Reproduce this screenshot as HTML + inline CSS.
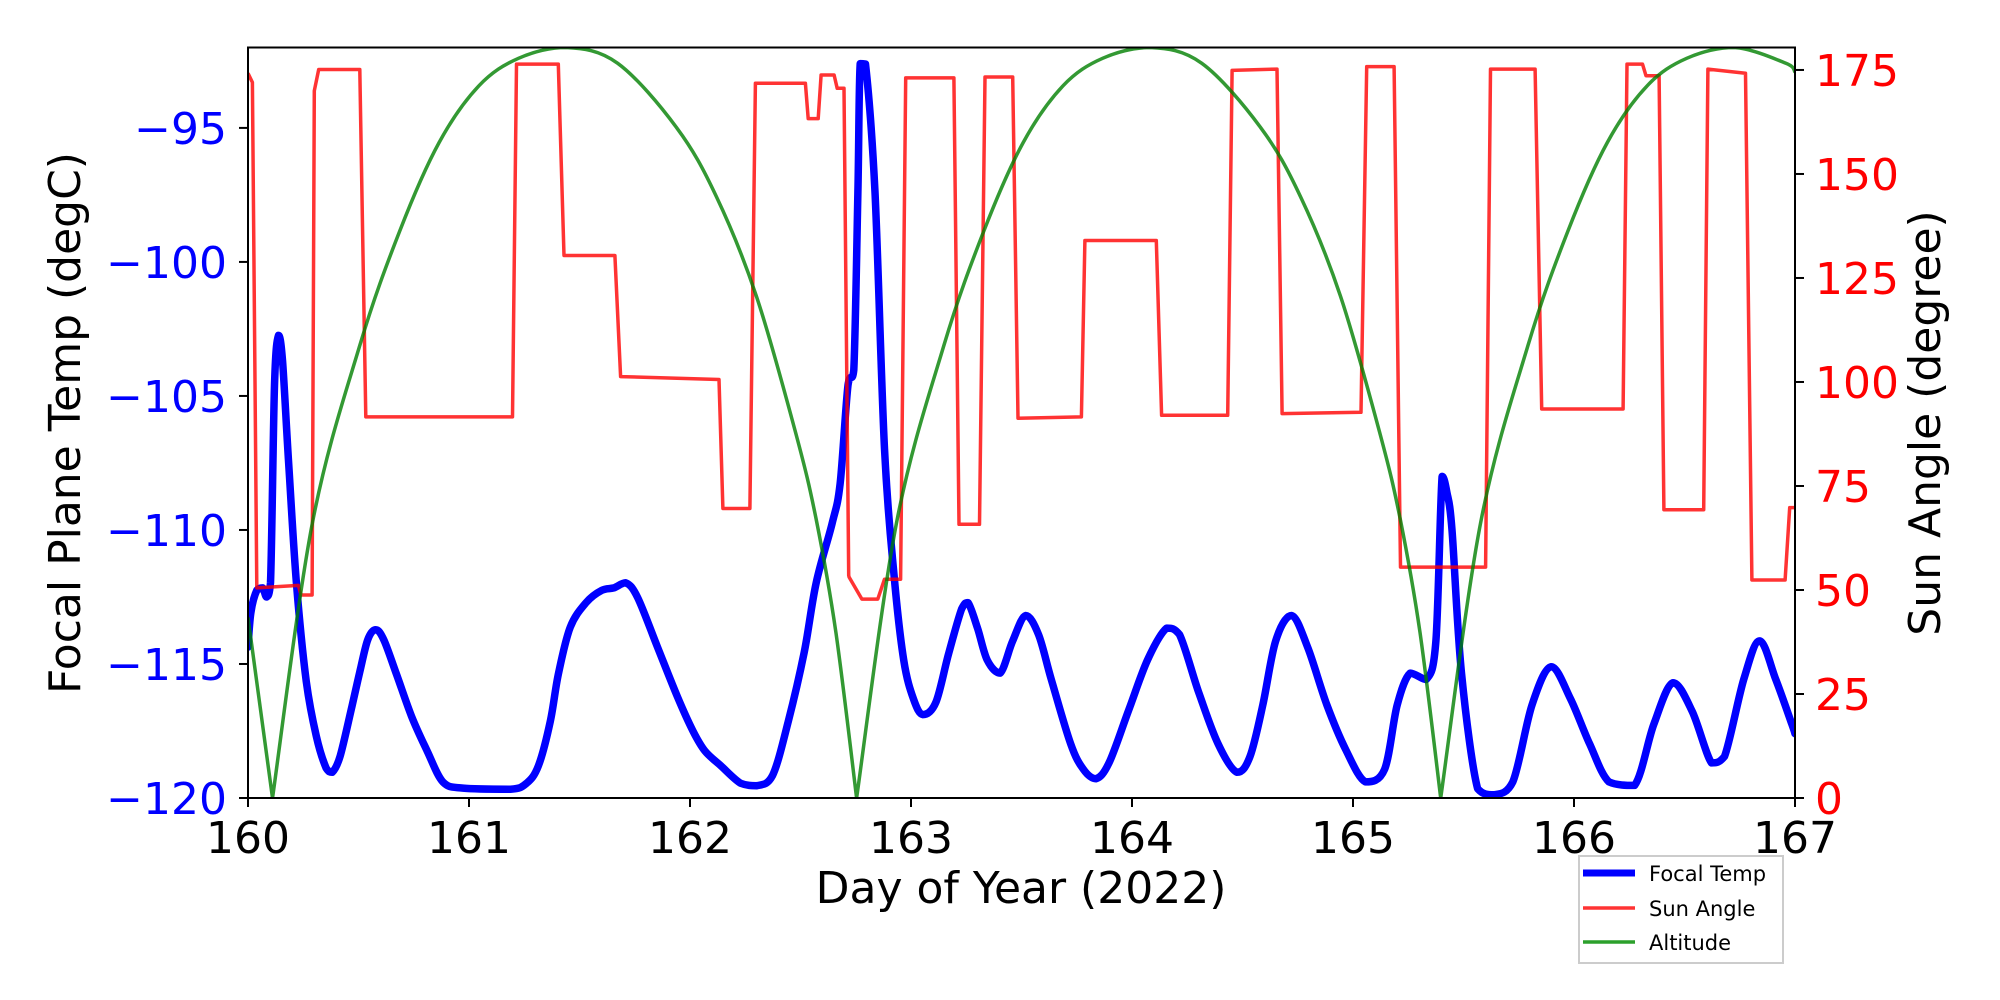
<!DOCTYPE html>
<html><head><meta charset="utf-8"><style>
html,body{margin:0;padding:0;background:#fff;}
svg{display:block;font-family:"DejaVu Sans","Liberation Sans",sans-serif;}
</style></head><body>
<svg id="chart" width="2000" height="1000" viewBox="0 0 2000 1000" xmlns="http://www.w3.org/2000/svg">
<rect width="2000" height="1000" fill="#fff"/>
<g id="plot"></g>
<g id="axes"></g>
<text x="1021" y="903" font-size="44" text-anchor="middle">Day of Year (2022)</text>
<text transform="translate(80,423) rotate(-90)" font-size="44" text-anchor="middle">Focal Plane Temp (degC)</text>
<text transform="translate(1940,423) rotate(-90)" font-size="44" text-anchor="middle">Sun Angle (degree)</text>
<g>
<rect x="1579" y="856" width="204" height="107" fill="#fff" stroke="#ccc" stroke-width="2"/>
<line x1="1583" y1="873" x2="1635" y2="873" stroke="#0000ff" stroke-width="7"/>
<text x="1649" y="881" font-size="21">Focal Temp</text>
<line x1="1583" y1="908" x2="1635" y2="908" stroke="#ff3333" stroke-width="3.5"/>
<text x="1649" y="916" font-size="21">Sun Angle</text>
<line x1="1583" y1="942" x2="1635" y2="942" stroke="#2ca02c" stroke-width="3.5"/>
<text x="1649" y="950" font-size="21">Altitude</text>
</g>
</svg>
<script>
const xTicks=[160,161,162,163,164,165,166,167];
const tempTicks=[-120,-115,-110,-105,-100,-95];
const tempTickLabels=["\u2212120","\u2212115","\u2212110","\u2212105","\u2212100","\u221295"];
const angleTicks=[0,25,50,75,100,125,150,175];
const tempDays=[160.0,160.013,160.04,160.066,160.084,160.102,160.12,160.138,160.156,160.183,160.219,160.264,160.309,160.354,160.381,160.417,160.47,160.506,160.542,160.578,160.614,160.668,160.74,160.811,160.883,160.973,161.188,161.26,161.314,161.368,161.404,161.458,161.53,161.601,161.655,161.709,161.763,161.853,161.943,162.014,162.068,162.14,162.23,162.302,162.373,162.445,162.517,162.571,162.643,162.679,162.715,162.741,162.76,162.77,162.794,162.837,162.88,162.924,162.967,163.011,163.054,163.113,163.17,163.229,163.258,163.301,163.345,163.403,163.46,163.519,163.577,163.635,163.722,163.78,163.837,163.896,163.983,164.07,164.157,164.215,164.302,164.389,164.475,164.534,164.592,164.65,164.722,164.795,164.882,164.968,165.056,165.143,165.2,165.259,165.331,165.375,165.403,165.425,165.448,165.491,165.564,165.636,165.723,165.81,165.897,165.984,166.07,166.158,166.274,166.361,166.448,166.535,166.622,166.681,166.768,166.84,166.913,166.986,167.0];
const tempValues=[-114.37,-113.08,-112.25,-112.16,-112.5,-111.97,-104.6,-102.74,-103.67,-107.36,-111.97,-115.66,-117.69,-118.89,-119.04,-118.43,-116.59,-115.29,-114.09,-113.72,-114.09,-115.29,-116.95,-118.25,-119.41,-119.63,-119.67,-119.45,-118.8,-117.14,-115.39,-113.63,-112.71,-112.25,-112.16,-111.97,-112.52,-114.37,-116.22,-117.51,-118.25,-118.8,-119.45,-119.54,-119.17,-117.14,-114.55,-111.97,-109.76,-108.28,-104.6,-104.03,-97.2,-92.6,-92.62,-97.4,-106.97,-111.75,-114.85,-116.3,-116.89,-116.42,-114.62,-112.95,-112.71,-113.66,-114.85,-115.34,-114.14,-113.19,-113.9,-115.58,-117.97,-118.93,-119.28,-118.69,-116.77,-114.85,-113.66,-113.9,-116.06,-117.97,-119.04,-118.45,-116.53,-114.14,-113.19,-114.38,-116.53,-118.21,-119.4,-118.93,-116.53,-115.34,-115.58,-114.14,-108.0,-108.6,-110.0,-115.34,-119.65,-119.88,-119.4,-116.53,-115.1,-116.3,-117.97,-119.4,-119.53,-117.25,-115.7,-116.77,-118.69,-118.45,-115.58,-114.14,-115.58,-117.25,-117.6];
const sunDays=[160.0,160.02,160.04,160.228,160.24,160.29,160.30,160.32,160.506,160.533,161.197,161.215,161.404,161.43,161.66,161.686,162.131,162.149,162.271,162.296,162.522,162.535,162.58,162.593,162.652,162.666,162.697,162.718,162.72,162.778,162.85,162.88,162.953,162.976,163.194,163.217,163.31,163.335,163.46,163.484,163.771,163.787,164.11,164.134,164.433,164.453,164.656,164.679,165.036,165.062,165.186,165.215,165.60,165.622,165.824,165.854,166.222,166.24,166.31,166.326,166.385,166.407,166.587,166.606,166.776,166.805,166.955,166.976,167.0];
const sunValues=[174.2,172,50.5,51.1,48.8,48.8,170,175.1,175.1,91.6,91.6,176.4,176.4,130.4,130.4,101.3,100.6,69.6,69.6,171.8,171.8,163.3,163.3,173.8,173.8,170.6,170.6,53.5,53.1,47.8,47.8,52.6,52.6,173.1,173.1,65.8,65.8,173.3,173.3,91.3,91.6,134.0,134.0,92.0,92.0,174.9,175.2,92.4,92.7,175.8,175.8,55.5,55.5,175.2,175.2,93.5,93.5,176.4,176.4,173.6,173.6,69.3,69.3,175.2,174.2,52.4,52.4,69.8,69.8];
const altDays=[160.0,160.111,160.291,160.506,160.686,160.865,161.045,161.224,161.44,161.673,161.94,162.12,162.30,162.48,162.57,162.66,162.754,162.934,163.149,163.329,163.508,163.688,163.867,164.083,164.316,164.583,164.763,164.943,165.123,165.213,165.303,165.397,165.577,165.792,165.972,166.151,166.331,166.51,166.726,166.959,167.0];
const altValues=[43.4,0,66,108.8,136.2,157.6,171.2,177.8,180.4,176.6,161.1,144.5,120.7,87.4,67.2,39.8,0,66,108.8,136.2,157.6,171.2,177.8,180.4,176.6,161.1,144.5,120.7,87.4,67.2,39.8,0,66,108.8,136.2,157.6,171.2,177.8,180.4,176.6,174.5];

const L=248,R=1795,T=47.5,B=798;
const xS=d=>L+(d-160)/7*(R-L);
const yT=v=>B-(v+120)/28*(B-T);
const yA=v=>B-v/180.4*(B-T);
const NS='http://www.w3.org/2000/svg';
const plot=document.getElementById('plot'),axes=document.getElementById('axes');
function mk(tag,attrs,parent){const e=document.createElementNS(NS,tag);for(const k in attrs)e.setAttribute(k,attrs[k]);parent.appendChild(e);return e;}
function pathD(xs,ys,fy){return xs.map((d,i)=>(i?'L':'M')+xS(d).toFixed(1)+' '+fy(ys[i]).toFixed(1)).join(' ');}
function clampY(y,a,b){const lo=Math.min(a,b),hi=Math.max(a,b);return Math.max(lo,Math.min(hi,y));}
function smoothD(xs,ys,fy,breaks){
 const P=xs.map((d,i)=>[xS(d),fy(ys[i])]);
 let s='M'+P[0][0].toFixed(1)+' '+P[0][1].toFixed(1);
 for(let i=0;i<P.length-1;i++){
  const p0=(i>0&&!breaks.has(i))?P[i-1]:P[i];
  const p1=P[i],p2=P[i+1];
  const p3=(i+2<P.length&&!breaks.has(i+1))?P[i+2]:P[i+1];
  const k=1/6;
  const c1=[p1[0]+(p2[0]-p0[0])*k,clampY(p1[1]+(p2[1]-p0[1])*k,p1[1],p2[1])];
  const c2=[p2[0]-(p3[0]-p1[0])*k,clampY(p2[1]-(p3[1]-p1[1])*k,p1[1],p2[1])];
  s+=' C'+c1[0].toFixed(1)+' '+c1[1].toFixed(1)+' '+c2[0].toFixed(1)+' '+c2[1].toFixed(1)+' '+p2[0].toFixed(1)+' '+p2[1].toFixed(1);
 }
 return s;
}
const clip=mk('clipPath',{id:'clp'},plot);mk('rect',{x:L,y:T,width:R-L,height:B-T},clip);
const g=mk('g',{'clip-path':'url(#clp)'},plot);
const p1=mk('path',{d:smoothD(tempDays,tempValues,yT,new Set()),fill:'none',stroke:'#0000ff','stroke-width':7.5,'stroke-linejoin':'round','stroke-linecap':'round'},g);


const p2=mk('path',{d:pathD(sunDays,sunValues,yA),fill:'none',stroke:'#ff0000','stroke-opacity':0.8,'stroke-width':3.5,'stroke-linejoin':'round'},g);


const altBreaks=new Set(altValues.map((v,i)=>v===0?i:-1).filter(i=>i>=0));
const p3=mk('path',{d:smoothD(altDays,altValues,yA,altBreaks),fill:'none',stroke:'#008000','stroke-opacity':0.8,'stroke-width':3.5,'stroke-linejoin':'round'},g);


const fr=mk('rect',{x:L,y:T,width:R-L,height:B-T,fill:'none',stroke:'#000','stroke-width':2},axes);


xTicks.forEach(d=>{const x=xS(d);
 mk('line',{x1:x,y1:B,x2:x,y2:B+9,stroke:'#000','stroke-width':2},axes);
 const t=mk('text',{x:x,y:853,'font-size':44,'text-anchor':'middle'},axes);t.textContent=d;
 
 });
tempTicks.forEach((v,i)=>{const y=yT(v);
 mk('line',{x1:L-9,y1:y,x2:L,y2:y,stroke:'#000','stroke-width':2},axes);
 const t=mk('text',{x:227,y:y+16,'font-size':44,'text-anchor':'end',fill:'#0000ff'},axes);t.textContent=tempTickLabels[i];
 
 });
angleTicks.forEach(v=>{const y=yA(v);
 mk('line',{x1:R,y1:y,x2:R+9,y2:y,stroke:'#000','stroke-width':2},axes);
 const t=mk('text',{x:1815,y:y+16,'font-size':44,fill:'#ff0000'},axes);t.textContent=v;
 
 });
</script>
</body></html>
